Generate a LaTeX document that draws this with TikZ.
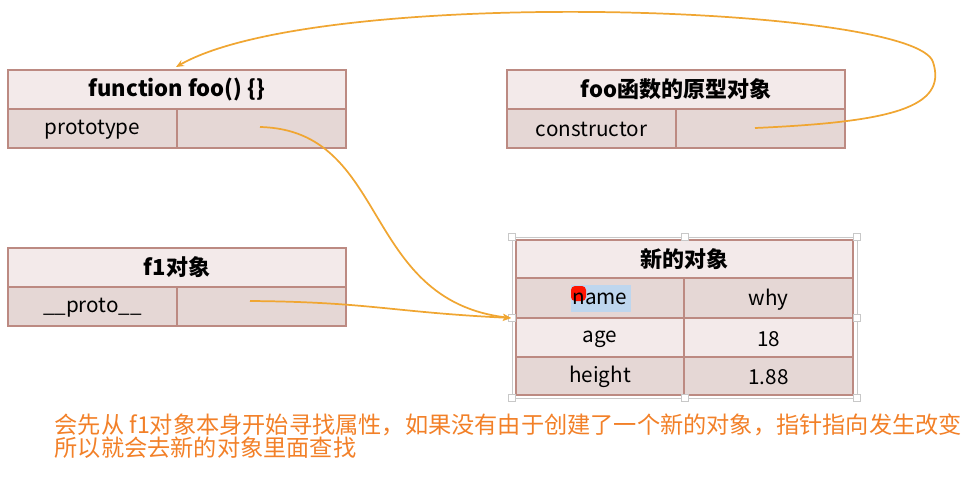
\documentclass[tikz,border=0pt]{standalone}
\usepackage{xcolor}
\usepackage{fontspec}
\newfontfamily\cjk{Noto Sans CJK SC}
\usetikzlibrary{arrows.meta}

\definecolor{headfill}{RGB}{243,234,234}
\definecolor{rowfill}{RGB}{229,215,213}
\definecolor{tabline}{RGB}{188,138,130}
\definecolor{linkcol}{RGB}{240,166,50}
\definecolor{notecol}{RGB}{242,128,40}
\definecolor{selcol}{RGB}{200,200,200}
\definecolor{hilite}{RGB}{190,214,238}

\begin{document}
\begin{tikzpicture}[x=0.75pt, y=-0.75pt, >=Stealth,
    head/.style={draw=tabline, fill=headfill, line width=0.8pt},
    row/.style={draw=tabline, fill=rowfill, line width=0.8pt},
    title/.style={font=\cjk\bfseries\fontsize{16.5}{19}\selectfont},
    cell/.style={font=\cjk\fontsize{15.5}{18}\selectfont, yshift=-1pt},
    link/.style={->, draw=linkcol, line width=1.3pt, >={Stealth[length=6pt,width=5pt]}}]
    \useasboundingbox (0,0) rectangle (979,490);

    % function foo
    \draw[head] (8,70) rectangle (346,109);
    \draw[row] (8,109) rectangle (346,148);
    \draw[tabline, line width=0.8pt] (177,109) -- (177,148);
    \node[title] (fooT) at (177,89.5) {function foo() \{\}};
    \node[cell] (protoK) at (92.5,128.5) {prototype};
    \coordinate (protoV) at (260,127);
    \coordinate (fooTop) at (176,67);

    % foo prototype object
    \draw[head] (507,70) rectangle (845,109);
    \draw[row] (507,109) rectangle (845,148);
    \draw[tabline, line width=0.8pt] (676,109) -- (676,148);
    \node[title] (protoT) at (676,89.5) {foo函数的原型对象};
    \node[cell] (ctorK) at (591.5,128.5) {constructor};
    \coordinate (ctorV) at (755,128);
    \coordinate (loop) at (933,62);

    % f1 object
    \draw[head] (8,248) rectangle (346,287);
    \draw[row] (8,287) rectangle (346,326);
    \draw[tabline, line width=0.8pt] (177,287) -- (177,326);
    \node[title] (f1T) at (177,267.5) {f1对象};
    \node[cell] (dunderK) at (92.5,306.5) {\_\_proto\_\_};
    \coordinate (dunderV) at (250,301);

    % new object (selected)
    \draw[selcol, line width=0.5pt] (512,237) rectangle (857,398);
    \draw[head] (516,240) rectangle (853,278);
    \draw[row] (516,278) rectangle (853,318);
    \draw[head] (516,318) rectangle (853,357);
    \draw[row] (516,357) rectangle (853,395);
    \draw[tabline, line width=0.8pt] (684,278) -- (684,395);
    \fill[hilite] (571,285) rectangle (631,312);
    \fill[red!85!orange, rounded corners=3pt] (571,286) rectangle (586,301);
    \node[title] (newT) at (684.5,259) {新的对象};
    \node[cell] (nameK) at (600,298) {name};
    \node[cell] (nameV) at (768.5,298) {why};
    \node[cell] (ageK) at (600,337.5) {age};
    \node[cell] (ageV) at (768.5,337.5) {18};
    \node[cell] (heightK) at (600,376) {height};
    \node[cell] (heightV) at (768.5,376) {1.88};
    \foreach \hx/\hy in {512/237, 684.5/237, 857/237, 512/317.5, 857/317.5, 512/398, 684.5/398, 857/398}
        \draw[selcol, fill=white, line width=0.5pt] (\hx-3.5,\hy-3.5) rectangle (\hx+3.5,\hy+3.5);
    \coordinate (newL) at (511,318);

    % pointers
    \draw[link] (protoV) .. controls (390,130) and (360,300) .. (newL);
    \draw[link] (dunderV) .. controls (370,302) and (390,312) .. (newL);
    \draw[link] (ctorV) .. controls (890,122) and (948,108) .. (loop)
        .. controls (915,5) and (320,-15) .. (fooTop);

    % note
    \node[anchor=west, align=left, text=notecol, font=\cjk\fontsize{17.4}{16.5}\selectfont]
        (note) at (50,436) {会先从 f1对象本身开始寻找属性，如果没有由于创建了一个新的对象，指针指向发生改变\\所以就会去新的对象里面查找};
\end{tikzpicture}
\end{document}
